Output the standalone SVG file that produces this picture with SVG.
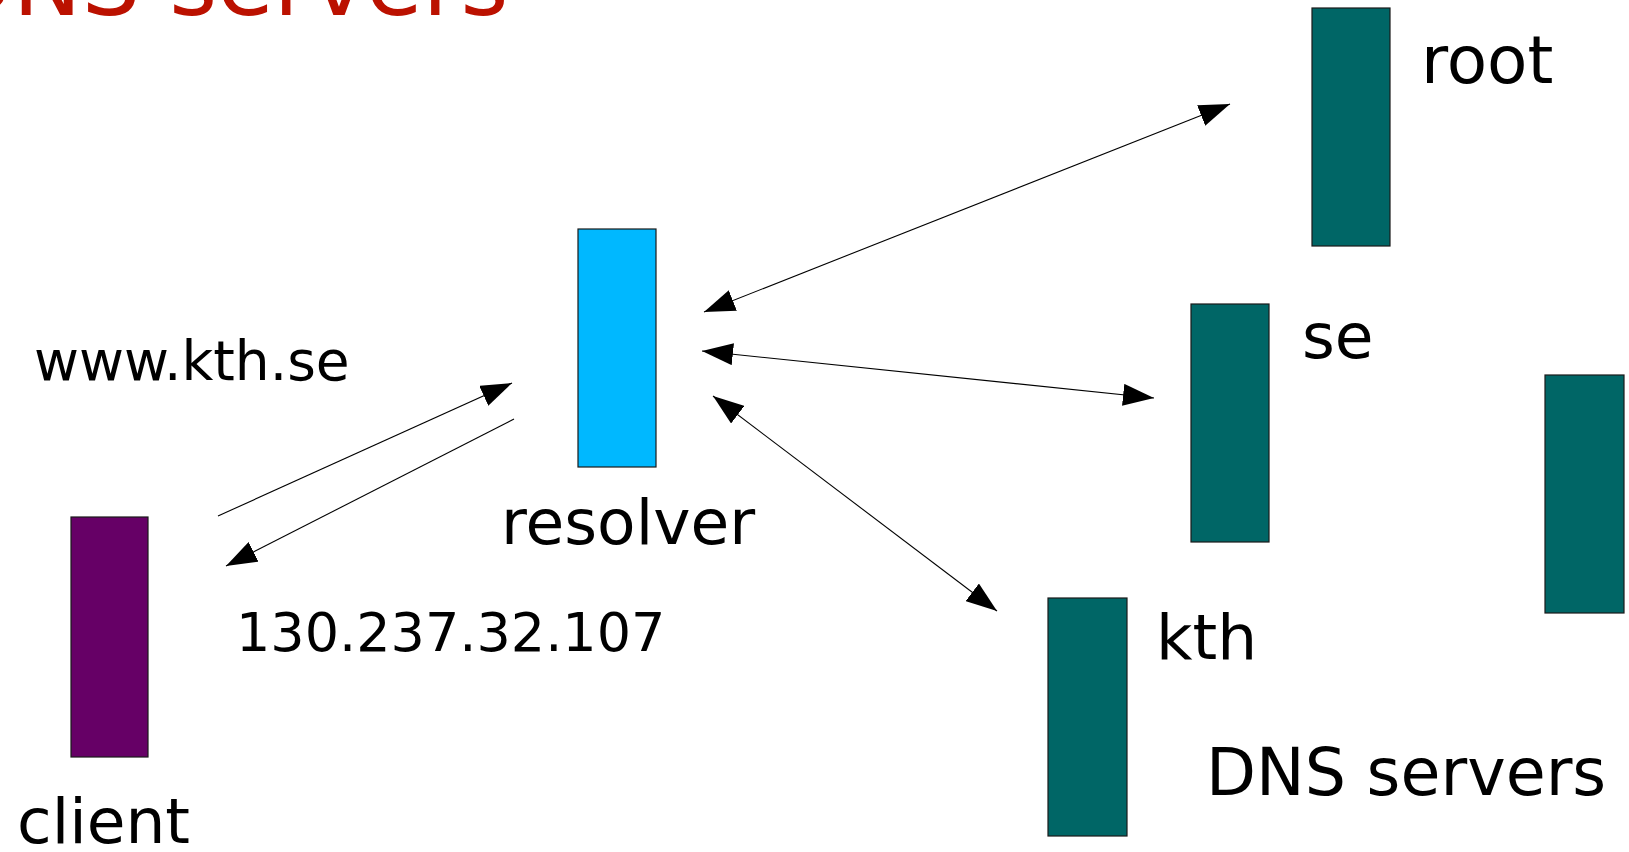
<svg xmlns="http://www.w3.org/2000/svg" width="1629" height="852" viewBox="0 0 1629 852">
<style>
text{font-family:"DejaVu Sans","Verdana",sans-serif;fill:#000}
.lbl{font-size:63px}
.sm{font-size:54px}
.title{font-size:92px;fill:#bb1100}
.srv{fill:#006666;stroke:#1a1a1a;stroke-width:1.2}
.con line{stroke:#000;stroke-width:1.1}
</style>
<defs>
<marker id="ah" markerUnits="userSpaceOnUse" markerWidth="32" markerHeight="22" viewBox="0 0 32 22" refX="31" refY="11" orient="auto-start-reverse">
<path d="M0,0 L31,11 L0,22 z" fill="#000"/>
</marker>
</defs>
<rect width="1629" height="852" fill="#fff"/>
<text class="title" x="-58" y="15">DNS servers</text>
<g id="client"><rect x="71" y="517" width="77" height="240" fill="#660066" stroke="#1a1a1a" stroke-width="1.2"/><text class="lbl" x="17" y="843">client</text></g>
<g id="resolver"><rect x="578" y="229" width="78" height="238" fill="#00b8ff" stroke="#1a1a1a" stroke-width="1.2"/><text class="lbl" x="501" y="544">resolver</text></g>
<g id="root"><rect class="srv" x="1312" y="8" width="78" height="238"/><text class="lbl" x="1421" y="83" style="font-size:66px">root</text></g>
<g id="se"><rect class="srv" x="1191" y="304" width="78" height="238"/><text class="lbl" x="1302" y="358">se</text></g>
<g id="kth"><rect class="srv" x="1048" y="598" width="79" height="238"/><text class="lbl" x="1156" y="659">kth</text></g>
<g id="server4"><rect class="srv" x="1545" y="375" width="79" height="238"/></g>
<g id="labels">
<text class="sm" x="34" y="380" style="font-size:55px">www.kth.se</text>
<text class="sm" x="236" y="651">130.237.32.107</text>
<text class="lbl" x="1206" y="795" style="font-size:65px">DNS servers</text>
</g>
<g id="connectors" class="con">
<line x1="704" y1="312" x2="1230" y2="104" marker-start="url(#ah)" marker-end="url(#ah)"/>
<line x1="702" y1="351" x2="1154" y2="398" marker-start="url(#ah)" marker-end="url(#ah)"/>
<line x1="713" y1="396" x2="997" y2="611" marker-start="url(#ah)" marker-end="url(#ah)"/>
<line x1="218" y1="516" x2="512" y2="383" marker-end="url(#ah)"/>
<line x1="514" y1="419" x2="226" y2="566" marker-end="url(#ah)"/>
</g>
</svg>
